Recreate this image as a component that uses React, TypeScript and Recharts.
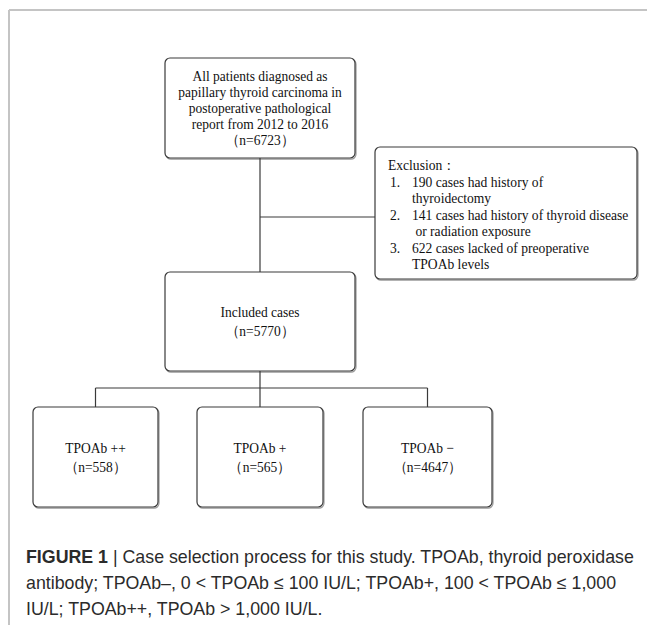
import React from "react";
import { ComposedChart, XAxis, YAxis, ReferenceArea, ReferenceLine } from "recharts";

// flowchart content
const sourceLines = [
  "All patients diagnosed as",
  "papillary thyroid carcinoma in",
  "postoperative pathological",
  "report from 2012 to 2016",
];
const totalCases = 6723;
const exclusionCounts = [190, 141, 622];
const exclusionReasons = [
  ["cases had history of", "thyroidectomy"],
  ["cases had history of thyroid disease", " or radiation exposure"],
  ["cases lacked of preoperative", "TPOAb levels"],
];
const includedCases = 5770;
const groupNames = ["TPOAb ++", "TPOAb +", "TPOAb \u2212"];
const groupCases = [558, 565, 4647];

const captionLines = [
  " | Case selection process for this study. TPOAb, thyroid peroxidase",
  "antibody; TPOAb\u2013, 0 < TPOAb \u2264 100 IU/L; TPOAb+, 100 < TPOAb \u2264 1,000",
  "IU/L; TPOAb++, TPOAb > 1,000 IU/L.",
];

const W = 647;
const H = 625;
const INK = "#3a3a3a";
const SERIF = "'Liberation Serif', 'Times New Roman', serif";
const SANS = "'Liberation Sans', Arial, sans-serif";

// box layout (chart units = pixels)
const topBox = { x1: 165, x2: 355, y1: 58, y2: 158 };
const exclBox = { x1: 375, x2: 637, y1: 147, y2: 279 };
const inclBox = { x1: 165, x2: 355, y1: 272, y2: 371 };
const groupBoxes = [
  { x1: 33, x2: 158, y1: 407, y2: 507 },
  { x1: 197, x2: 323, y1: 407, y2: 507 },
  { x1: 363, x2: 492, y1: 407, y2: 507 },
];
const busY = 388;
const exclY = 217;

// multi-line text block, squeezed horizontally like the source
const Block = ({ x, y, anchor, lines, gap, fs = 15, sx = 0.9 }: any) => (
  <text transform={`translate(${x},${y}) scale(${sx},1)`} textAnchor={anchor}
    dominantBaseline="central" fontFamily={SERIF} fontSize={fs} fill="#111" style={{ whiteSpace: "pre" }}>
    {lines.map((l: string, i: number) => (
      <tspan key={i} x={0} y={i * gap}>{l}</tspan>
    ))}
  </text>
);

const Frame = ({ x, y, width, height }: any) => (
  <>
    <rect x={x + 1} y={y + 1.2} width={width} height={height} rx={5} fill="none" stroke="#9a9a9a" strokeWidth={1.2} />
    <rect x={x} y={y} width={width} height={height} rx={5} fill="#fff" stroke={INK} strokeWidth={1.2} />
  </>
);

const BoxShape = (props: any) => {
  const { x, y, width, height, lines, gap } = props;
  const start = y + height / 2 - ((lines.length - 1) * gap) / 2;
  return (
    <g>
      <Frame x={x} y={y} width={width} height={height} />
      <Block x={x + width / 2} y={start} anchor="middle" lines={lines} gap={gap} />
    </g>
  );
};

const ExclusionShape = (props: any) => {
  const { x, y, width, height } = props;
  let yy = 18;
  const items = exclusionCounts.map((c, i) => {
    yy += i === 0 ? 17 : 17;
    const row = yy;
    yy += 16;
    return { n: `${i + 1}.`, lines: [`${c} ${exclusionReasons[i][0]}`, exclusionReasons[i][1]], row };
  });
  return (
    <g>
      <Frame x={x} y={y} width={width} height={height} />
      <Block x={x + 13} y={y + 18} anchor="start" lines={["Exclusion\uff1a"]} gap={0} fs={14} sx={0.97} />
      {items.map((it, i) => (
        <g key={i}>
          <Block x={x + 15} y={y + it.row} anchor="start" lines={[it.n]} gap={0} fs={14} sx={0.97} />
          <Block x={x + 37} y={y + it.row} anchor="start" lines={it.lines} gap={16} fs={14} sx={0.97} />
        </g>
      ))}
    </g>
  );
};

const seg = (x1: number, y1: number, x2: number, y2: number, key: string, stroke = INK, w = 1.2) => (
  <ReferenceLine key={key} segment={[{ x: x1, y: y1 }, { x: x2, y: y2 }]} stroke={stroke}
    strokeWidth={w} ifOverflow="visible" />
);

export default function App() {
  const cx = (topBox.x1 + topBox.x2) / 2;
  const groupCx = groupBoxes.map((b) => (b.x1 + b.x2) / 2);
  return (
    <div style={{ position: "absolute", left: 0, top: 0, width: W, height: H, background: "#fff" }}>
      <ComposedChart width={W} height={H} data={[]} margin={{ top: 0, right: 0, bottom: 0, left: 0 }}>
        <XAxis type="number" dataKey="x" domain={[0, W]} hide allowDataOverflow />
        <YAxis type="number" dataKey="y" domain={[0, H]} reversed hide allowDataOverflow />
        {/* page frame */}
        {seg(9, 10, W, 10, "f1", "#c4c4c4", 2)}
        {seg(9, 10, 9, H, "f2", "#c4c4c4", 2)}
        {/* connectors */}
        {seg(cx, topBox.y2, cx, inclBox.y1, "c1")}
        {seg(cx, exclY, exclBox.x1, exclY, "c2")}
        {seg(cx, inclBox.y2, cx, busY, "c3")}
        {seg(groupCx[0], busY, groupCx[2], busY, "c4")}
        {groupCx.map((gx, i) => seg(gx, busY, gx, groupBoxes[i].y1, `s${i}`))}
        <ReferenceArea {...topBox} ifOverflow="visible"
          shape={(p: any) => <BoxShape {...p} gap={16} lines={[...sourceLines, `\uff08n=${totalCases}\uff09`]} />} />
        <ReferenceArea {...exclBox} ifOverflow="visible" shape={(p: any) => <ExclusionShape {...p} />} />
        <ReferenceArea {...inclBox} ifOverflow="visible"
          shape={(p: any) => <BoxShape {...p} gap={19} lines={["Included cases", `\uff08n=${includedCases}\uff09`]} />} />
        {groupBoxes.map((b, i) => (
          <ReferenceArea key={i} {...b} ifOverflow="visible"
            shape={(p: any) => <BoxShape {...p} gap={19} lines={[groupNames[i], `\uff08n=${groupCases[i]}\uff09`]} />} />
        ))}
      </ComposedChart>
      <div style={{ position: "absolute", left: 26, top: 544, fontFamily: SANS, fontSize: 17.8,
        lineHeight: "26px", color: "#2b2b2b", whiteSpace: "pre" }}>
        <div><b>FIGURE 1</b>{captionLines[0]}</div>
        <div>{captionLines[1]}</div>
        <div>{captionLines[2]}</div>
      </div>
    </div>
  );
}
